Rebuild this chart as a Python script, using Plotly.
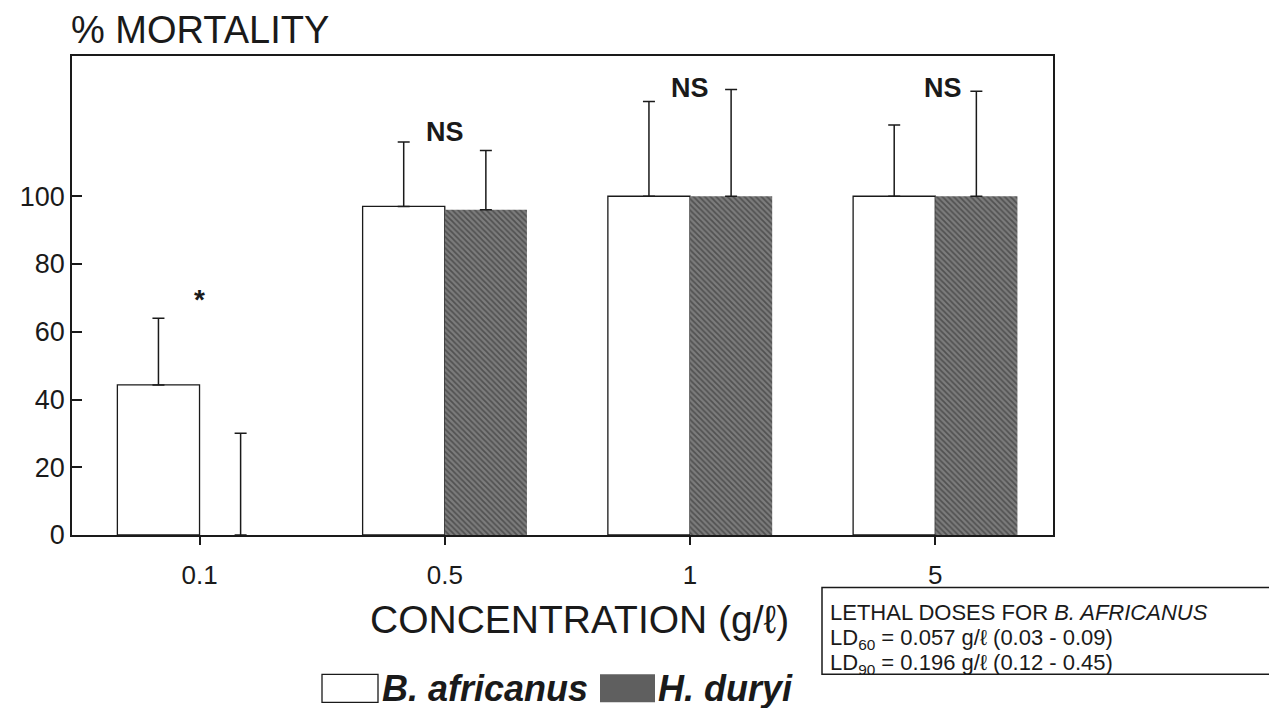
import plotly.graph_objects as go

# ---- data ----
concentrations = ["0.1", "0.5", "1", "5"]
b_africanus = [44.3, 97, 100, 100]
b_africanus_err = [19.7, 19, 28, 21]
h_duryi = [0, 96, 100, 100]
h_duryi_err = [30, 17.5, 31.5, 31]
y_ticks = [0, 20, 40, 60, 80, 100]

sig_labels = ["*", "NS", "NS", "NS"]
sig_x = [0.0, 1.0, 2.0, 3.03]
sig_y = [69.5, 119, 132, 132]

ld_title = "LETHAL DOSES FOR <i>B. AFRICANUS</i>"
ld_names = ["LD<sub>60</sub>", "LD<sub>90</sub>"]
ld_values = ["0.057", "0.196"]
ld_ci = ["(0.03 - 0.09)", "(0.12 - 0.45)"]

FONT = "Liberation Sans, Arial, sans-serif"
INK = "#1a1a1a"

# plot area in page pixels: x 72..1053, y 56..535.5
H_AREA = 479.5


def py(p):
    """page pixel row -> paper y"""
    return (535.5 - p) / H_AREA


def px(p):
    """page pixel column -> paper x"""
    return (p - 72) / 981.0


fig = go.Figure()
fig.add_trace(go.Bar(
    x=concentrations, y=b_africanus, name="B. africanus",
    marker=dict(color="white", line=dict(color=INK, width=1.3)),
    error_y=dict(type="data", symmetric=False, array=b_africanus_err,
                 arrayminus=[0] * len(b_africanus_err),
                 color=INK, thickness=1.5, width=6),
    showlegend=False,
))
fig.add_trace(go.Bar(
    x=concentrations, y=h_duryi, name="H. duryi",
    marker=dict(color="#6f6f6f", line=dict(width=0),
                pattern=dict(shape="\\", fgcolor="#262626", bgcolor="#7c7c7c",
                             size=4, solidity=0.45)),
    error_y=dict(type="data", symmetric=False, array=h_duryi_err,
                 arrayminus=[0] * len(h_duryi_err),
                 color=INK, thickness=1.5, width=6),
    showlegend=False,
))

# significance markers
for lab, xs, ys in zip(sig_labels, sig_x, sig_y):
    fig.add_annotation(x=xs, y=ys, xref="x", yref="y", text=f"<b>{lab}</b>",
                       showarrow=False,
                       font=dict(family=FONT, size=27 if lab != "*" else 28, color=INK))

# y-axis title at top-left
fig.add_annotation(x=px(69), y=py(30), xref="paper", yref="paper", xanchor="left", yanchor="middle",
                   text="% MORTALITY", showarrow=False,
                   font=dict(family=FONT, size=38, color=INK))
# x-axis title
fig.add_annotation(x=px(579), y=py(620), xref="paper", yref="paper", xanchor="center", yanchor="middle",
                   text="CONCENTRATION (g/ℓ)", showarrow=False,
                   font=dict(family=FONT, size=39, color=INK))

# lethal dose box
ld_lines = [ld_title] + [f"{n} = {v} g/ℓ {c}" for n, v, c in zip(ld_names, ld_values, ld_ci)]
ld_rows = [613, 640, 665]
fig.add_shape(type="rect", xref="paper", yref="paper", x0=px(822), x1=px(1300), y0=py(588), y1=py(675),
              line=dict(color=INK, width=1.5), fillcolor="rgba(0,0,0,0)")
for line, row in zip(ld_lines, ld_rows):
    fig.add_annotation(x=px(828), y=py(row), xref="paper", yref="paper", xanchor="left", yanchor="middle",
                       align="left", text=line, showarrow=False,
                       font=dict(family=FONT, size=22, color=INK))

# custom legend
fig.add_shape(type="rect", xref="paper", yref="paper", x0=px(322), x1=px(378), y0=py(675), y1=py(703),
              line=dict(color=INK, width=1.3), fillcolor="white")
fig.add_shape(type="rect", xref="paper", yref="paper", x0=px(600), x1=px(655), y0=py(675), y1=py(703),
              line=dict(width=0), fillcolor="#5f5f5f")
fig.add_annotation(x=px(380), y=py(689), xref="paper", yref="paper", xanchor="left", yanchor="middle",
                   text="<b><i>B. africanus</i></b>", showarrow=False,
                   font=dict(family=FONT, size=36, color=INK))
fig.add_annotation(x=px(656), y=py(689), xref="paper", yref="paper", xanchor="left", yanchor="middle",
                   text="<b><i>H. duryi</i></b>", showarrow=False,
                   font=dict(family=FONT, size=36, color=INK))

fig.update_layout(
    width=1269, height=708,
    margin=dict(l=72, r=216, t=56, b=172.5),
    paper_bgcolor="white", plot_bgcolor="white",
    barmode="group", bargap=0.33, bargroupgap=0,
    font=dict(family=FONT, color=INK),
    showlegend=False,
)
fig.update_xaxes(
    type="category", range=[-0.52, 3.48],
    showline=True, linecolor=INK, linewidth=1.5, mirror=True,
    ticks="outside", ticklen=8, tickwidth=1.5, tickcolor=INK,
    ticklabelstandoff=8,
    tickfont=dict(family=FONT, size=26, color=INK),
    showgrid=False, zeroline=False,
)
fig.update_yaxes(
    range=[0, 141.4], tickvals=y_ticks,
    showline=True, linecolor=INK, linewidth=1.5, mirror=True,
    ticks="inside", ticklen=10, tickwidth=1.5, tickcolor=INK,
    tickfont=dict(family=FONT, size=27, color=INK),
    showgrid=False, zeroline=False,
)

fig.write_html(
    "out.html",
    config={"displayModeBar": False},
    post_script="document.body.style.margin='0';document.body.style.overflow='hidden';",
)
